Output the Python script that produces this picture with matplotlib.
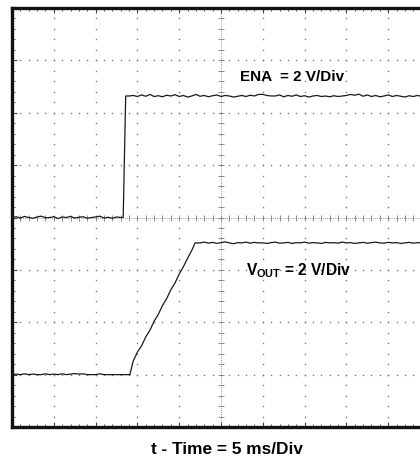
import numpy as np
import matplotlib
matplotlib.use("Agg")
import matplotlib.pyplot as plt
from matplotlib.ticker import MultipleLocator

plt.rcParams['font.family'] = ['Liberation Sans', 'DejaVu Sans']
plt.rcParams['mathtext.fontset'] = 'custom'
plt.rcParams['mathtext.rm'] = 'Liberation Sans:bold'
plt.rcParams['mathtext.it'] = 'Liberation Sans:bold'

# Scope settings
T_PER_DIV = 5.0     # ms/div
V_PER_DIV = 2.0     # V/div
ENA_OFFSET = 0.0    # div (ground marker of ENA trace)
VOUT_OFFSET = -3.0  # div (ground marker of VOUT trace)

# ENA trace (ms, V)
ena_low_t = [0.0, 0.5, 1.0, 1.5, 2.0, 2.5, 3.0, 3.5, 4.0, 4.5, 5.0, 5.5, 6.0, 6.5,
             7.0, 7.5, 8.0, 8.5, 9.0, 9.5, 10.0, 10.5, 11.0, 11.5, 12.0, 12.5, 13.0, 13.3]
ena_low_v = [0.00, 0.03, -0.02, 0.04, 0.00, -0.03, 0.02, 0.05, -0.01, 0.00, 0.03, -0.04,
             0.02, 0.00, 0.04, -0.02, 0.01, 0.03, -0.03, 0.00, 0.02, 0.05, -0.02, 0.01,
             -0.03, 0.02, 0.00, 0.00]
ena_high_t = [13.6, 14.0, 14.5, 15.0, 15.5, 16.0, 16.5, 17.0, 17.5, 18.0, 18.5, 19.0,
              19.5, 20.0, 20.5, 21.0, 21.5, 22.0, 22.5, 23.0, 23.5, 24.0, 24.5, 25.0,
              25.5, 26.0, 26.5, 27.0, 27.5, 28.0, 28.5, 29.0, 29.5, 30.0, 30.5, 31.0,
              31.5, 32.0, 32.5, 33.0, 33.5, 34.0, 34.5, 35.0, 35.5, 36.0, 36.5, 37.0,
              37.5, 38.0, 38.5, 39.0, 39.5, 40.0, 40.5, 41.0, 41.5, 42.0, 42.5, 43.0,
              43.5, 44.0, 44.5, 45.0, 45.5, 46.0, 46.5, 47.0, 47.5, 48.0, 48.5, 49.0,
              49.5, 50.0]
ena_high_v = [4.64, 4.64, 4.66, 4.62, 4.68, 4.63, 4.70, 4.62, 4.65, 4.61, 4.67, 4.64,
              4.69, 4.62, 4.66, 4.60, 4.64, 4.70, 4.63, 4.66, 4.61, 4.65, 4.68, 4.62,
              4.66, 4.64, 4.60, 4.63, 4.66, 4.62, 4.67, 4.64, 4.70, 4.70, 4.66, 4.64,
              4.64, 4.68, 4.61, 4.66, 4.63, 4.68, 4.62, 4.65, 4.60, 4.64, 4.66, 4.62,
              4.64, 4.61, 4.65, 4.62, 4.64, 4.66, 4.70, 4.67, 4.71, 4.63, 4.68, 4.62,
              4.66, 4.61, 4.64, 4.68, 4.62, 4.66, 4.63, 4.60, 4.65, 4.62, 4.66, 4.63,
              4.64, 4.64]

# VOUT trace (ms, V)
vout_t = [0.0, 0.5, 1.0, 1.5, 2.0, 2.5, 3.0, 3.5, 4.0, 4.5, 5.0, 5.5, 6.0, 6.5, 7.0,
          7.5, 8.0, 8.5, 9.0, 9.5, 10.0, 10.5, 11.0, 11.5, 12.0, 12.5, 13.0, 13.5,
          14.1, 14.5, 15.0, 15.5, 16.0, 16.5, 17.0, 17.5, 18.0, 18.5, 19.0, 19.5,
          20.0, 20.5, 21.0, 21.5, 21.9, 22.5, 23.0, 23.5, 24.0, 24.5, 25.0, 25.5,
          26.0, 26.5, 27.0, 27.5, 28.0, 28.5, 29.0, 29.5, 30.0, 30.5, 31.0, 31.5,
          32.0, 32.5, 33.0, 33.5, 34.0, 34.5, 35.0, 35.5, 36.0, 36.5, 37.0, 37.5,
          38.0, 38.5, 39.0, 39.5, 40.0, 40.5, 41.0, 41.5, 42.0, 42.5, 43.0, 43.5,
          44.0, 44.5, 45.0, 45.5, 46.0, 46.5, 47.0, 47.5, 48.0, 48.5, 49.0, 49.5, 50.0]
vout_v = [0.00, 0.02, 0.00, 0.03, 0.00, 0.02, 0.00, 0.00, 0.03, 0.00, 0.02, 0.00,
          0.03, 0.00, 0.02, 0.04, 0.02, 0.03, 0.00, 0.00, 0.00, 0.03, 0.00, 0.00,
          0.00, 0.00, 0.00, 0.00,
          0.00, 0.52, 0.86, 1.10, 1.44, 1.70, 2.04, 2.30, 2.64, 2.90, 3.24, 3.50,
          3.84, 4.12, 4.44, 4.74, 5.03,
          5.03, 5.06, 5.02, 5.05, 5.01, 5.04, 5.07, 5.03, 5.00, 5.04, 5.03, 5.06,
          5.02, 5.05, 5.03, 5.03, 5.01, 5.04, 5.06, 5.02, 5.03, 5.05, 5.01, 5.04,
          5.03, 5.06, 5.02, 5.04, 5.03, 5.01, 5.05, 5.03, 5.04, 5.02, 5.06, 5.03,
          5.04, 5.01, 5.03, 5.05, 5.02, 5.04, 5.06, 5.03, 5.02, 5.05, 5.03, 5.04,
          5.01, 5.03, 5.05, 5.02, 5.04, 5.03, 5.06, 5.03]

ena_label = "ENA  = 2 V/Div"
vout_label = r"V$_{\mathrm{OUT}}$ = 2 V/Div"
time_label = "t - Time = 5 ms/Div"


def to_div_x(t):
    return np.asarray(t) / T_PER_DIV


def to_div_y(v, offset):
    return np.asarray(v) / V_PER_DIV + offset


fig = plt.figure(figsize=(4.2, 4.57), dpi=100)
ax = fig.add_axes([12 / 420, 30 / 457, 418 / 420, 419 / 457])
ax.set_xlim(0, 10)
ax.set_ylim(-4, 4)

# graticule dots
grid_c = '#7a7a7a'
minor_y = np.arange(1, 40) * 0.2 - 4
minor_x = np.arange(1, 50) * 0.2
for gx in [1, 2, 3, 4, 6, 7, 8, 9]:
    ax.plot(np.full_like(minor_y, gx), minor_y, ls='none', marker='s',
            ms=1.0, mew=0, color=grid_c, zorder=1)
for gy in [-3, -2, -1, 1, 2, 3]:
    ax.plot(minor_x, np.full_like(minor_x, gy), ls='none', marker='s',
            ms=1.0, mew=0, color=grid_c, zorder=1)

# center crosshair with ticks
ax.plot([5, 5], [-4, 4], ls=(0, (1, 1.5)), lw=0.6, color=grid_c, zorder=1)
ax.plot([0, 10], [0, 0], ls=(0, (1, 1.5)), lw=0.6, color=grid_c, zorder=1)
ax.plot(np.full_like(minor_y, 5), minor_y, ls='none', marker='_', ms=4,
        mew=0.6, color=grid_c, zorder=1)
ax.plot(minor_x, np.zeros_like(minor_x), ls='none', marker='|', ms=4,
        mew=0.6, color=grid_c, zorder=1)

# traces
ena_t = ena_low_t + ena_high_t
ena_v = ena_low_v + ena_high_v
ax.plot(to_div_x(ena_t), to_div_y(ena_v, ENA_OFFSET), color='#1a1a1a', lw=0.9, zorder=3)
ax.plot(to_div_x(vout_t), to_div_y(vout_v, VOUT_OFFSET), color='#1a1a1a', lw=0.9, zorder=3)

# labels
ax.text(5.45, 2.6, ena_label, fontsize=11, fontweight='bold', ha='left', va='baseline')
ax.text(5.6, -1.11, vout_label, fontsize=11.2, fontweight='bold', ha='left', va='baseline')
fig.text(227 / 420, 3 / 457, time_label, fontsize=12.4, fontweight='bold',
         ha='center', va='baseline')

# frame and border ticks
ax.xaxis.set_major_locator(MultipleLocator(1))
ax.xaxis.set_minor_locator(MultipleLocator(0.2))
ax.yaxis.set_major_locator(MultipleLocator(1))
ax.yaxis.set_minor_locator(MultipleLocator(0.2))
ax.tick_params(which='both', direction='in', top=True, right=True,
               labelbottom=False, labelleft=False, color='#444444')
ax.tick_params(which='major', length=3.5, width=0.8)
ax.tick_params(which='minor', length=2.5, width=0.6)
for s in ax.spines.values():
    s.set_linewidth(2.4)
    s.set_color('#111111')

fig.savefig('out.png', dpi=100)
